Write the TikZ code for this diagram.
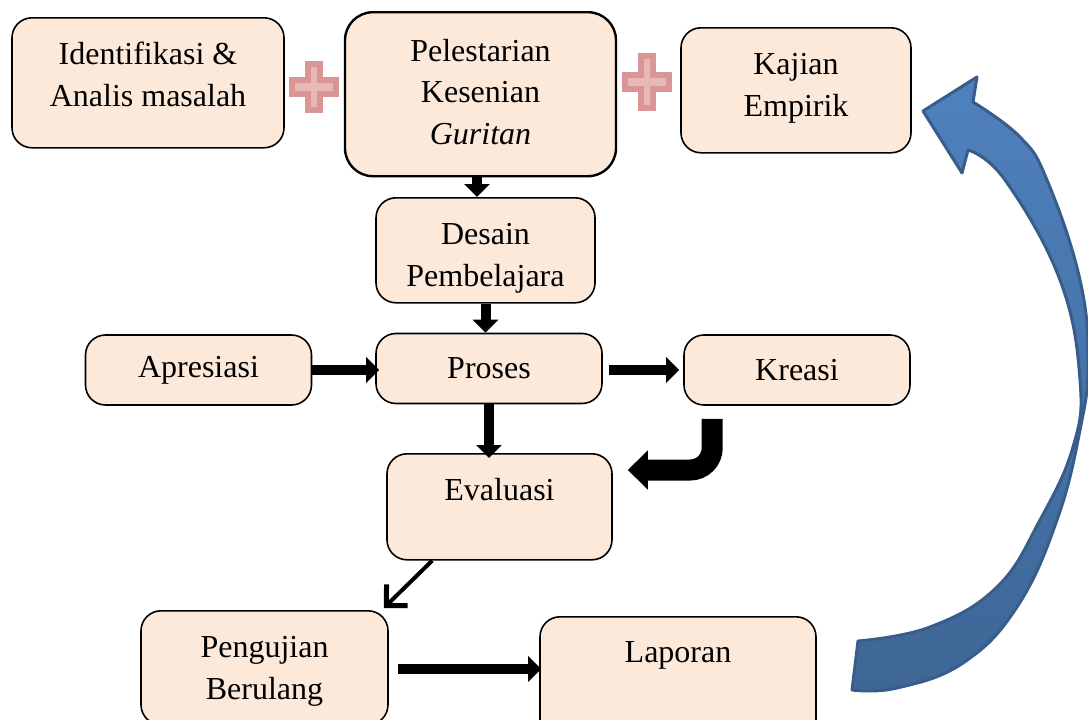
\documentclass[tikz,border=0pt]{standalone}
\usepackage{fontspec}
\setmainfont{Liberation Serif}
\usepackage{tikz}
\usetikzlibrary{arrows.meta}
\usetikzlibrary{positioning}
\usetikzlibrary{calc}
\definecolor{peach}{RGB}{253,233,217}
\definecolor{crossfill}{RGB}{232,183,184}
\definecolor{crossline}{RGB}{218,150,150}
\definecolor{bluetop}{RGB}{79,129,189}
\definecolor{bluebottom}{RGB}{62,102,150}
\definecolor{blueline}{RGB}{56,93,138}
\newcommand{\lines}[1]{\begin{tabular}[t]{@{}c@{}}#1\end{tabular}}
\tikzstyle{box}=[draw,fill=peach,rounded corners=20pt,line width=1.6pt,inner sep=6pt,font=\fontsize{32}{41.5}\selectfont]
\tikzstyle{bigbox}=[box,rounded corners=28pt,line width=2.4pt]
\tikzstyle{blockarrow}=[line width=10pt,-{Triangle[width=25pt,length=13pt]}]
\tikzstyle{bentarrow}=[line width=21pt,rounded corners=22pt,-{Triangle[width=38pt,length=20pt]}]
\tikzstyle{thinarrow}=[line width=4pt,-{Straight Barb[width=30pt,length=15pt,line width=5pt]}]
\tikzstyle{cross}=[fill=crossfill,draw=crossline,line width=6pt]
\tikzstyle{curvedarrow}=[draw=blueline,line width=3pt,top color=bluetop,bottom color=bluebottom,line join=round]

\begin{document}
\begin{tikzpicture}[x=1pt,y=-1pt]
    \useasboundingbox (0,0) rectangle (1088,720);
    \clip (0,0) rectangle (1088,720);

    % boxes, placed by their top edge
    \node[box,anchor=north,minimum width=272pt,text height=41pt,text depth=77pt] (ident) at (148,17) {\lines{Identifikasi \&\\Analis masalah}};
    \node[bigbox,anchor=north,minimum width=271pt,text height=43pt,text depth=109pt] (lestari) at (480.5,11) {\lines{Pelestarian\\Kesenian\\\textit{Guritan}}};
    \node[box,anchor=north,minimum width=230pt,text height=41pt,text depth=72pt] (kajian) at (796,27) {\lines{Kajian\\Empirik}};
    \node[box,anchor=north,minimum width=219pt,text height=41pt,text depth=52pt] (desain) at (485.5,197) {\lines{Desain\\Pembelajara}};
    \foreach \pos/ \name/ \txt in {{(198.5,370)/apresiasi/Apresiasi}, {(489,368.5)/proses/Proses}, {(797,370)/kreasi/Kreasi}}
        \node[box,minimum width=226pt,minimum height=70pt] (\name) at \pos {\txt};
    \node[box,anchor=north,minimum width=225pt,text height=40.5pt,text depth=53.5pt] (evaluasi) at (499.5,453) {Evaluasi};
    \node[box,anchor=north,minimum width=247pt,text height=41pt,text depth=61pt] (uji) at (264.5,610) {\lines{Pengujian\\Berulang}};
    \node[box,anchor=north,minimum width=276pt,text height=40pt,text depth=78pt] (laporan) at (678,616) {Laporan};

    % plus signs between the top boxes
    \foreach \cx/ \cy/ \h in {314/87/23, 647/82/26}
        \draw[cross] (\cx-6,\cy-\h) -- (\cx+6,\cy-\h) -- (\cx+6,\cy-7) -- (\cx+22,\cy-7) -- (\cx+22,\cy+7) -- (\cx+6,\cy+7)
            -- (\cx+6,\cy+\h) -- (\cx-6,\cy+\h) -- (\cx-6,\cy+7) -- (\cx-22,\cy+7) -- (\cx-22,\cy-7) -- (\cx-6,\cy-7) -- cycle;

    % arrows between the boxes
    \draw[blockarrow] ([xshift=-3.5pt]lestari.south) -- ([xshift=-3.5pt]lestari.south |- desain.north);
    \draw[blockarrow] (desain.south) -- (desain.south |- proses.north);
    \draw[blockarrow] (apresiasi.east) -- ([xshift=4pt]proses.west |- apresiasi.east);
    \draw[blockarrow] ([xshift=6pt]proses.east |- kreasi.west) -- ([xshift=-4pt]kreasi.west);
    \draw[blockarrow] (proses.south) -- ([yshift=-5pt]proses.south |- evaluasi.north);
    \draw[bentarrow] ([xshift=29pt,yshift=-13pt]kreasi.south west) |- ([xshift=15pt,yshift=-17pt]evaluasi.north east);
    \draw[thinarrow] ([xshift=46pt]evaluasi.south west) -- ([xshift=-5pt,yshift=2pt]uji.north east);
    \draw[blockarrow] ([xshift=9pt,yshift=-59pt]uji.north east) -- ([xshift=2pt,yshift=-59pt]uji.north east -| laporan.west);

    % big curved arrow back up to Kajian
    \draw[curvedarrow] plot[smooth,tension=0.7] coordinates {(852,690) (897,688) (963,663) (1017,607) (1057,520) (1080,430) (1088,363) (1080,280) (1047,180) (1020,137) (973,102)}
        -- (977,77) -- (923,111) -- (962,173) -- (968,150)
        -- plot[smooth,tension=0.7] coordinates {(968,150) (1005,180) (1060,280) (1080,380) (1073,447) (1040,520) (997,587) (930,627) (858,641)} -- cycle;
\end{tikzpicture}
\end{document}
